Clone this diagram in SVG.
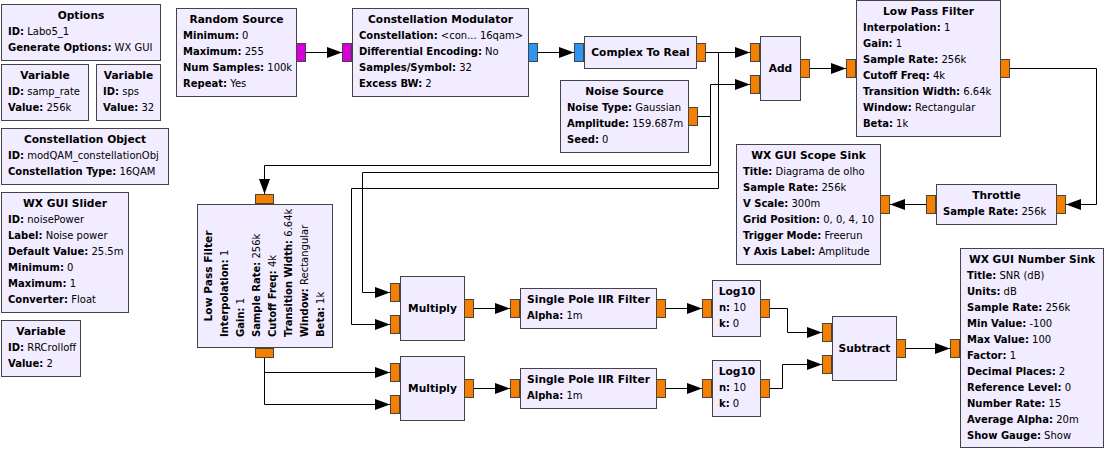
<svg xmlns="http://www.w3.org/2000/svg" width="1105" height="449" viewBox="0 0 1105 449">
<style>
text{font-family:"DejaVu Sans","Liberation Sans",sans-serif;font-size:10px;fill:#000}
.t{font-weight:bold;text-anchor:middle;font-size:10.667px}
.k{font-weight:bold}
.b{fill:#F1ECFF;stroke:#444;stroke-width:1}
.f{fill:#F67F00;stroke:#444;stroke-width:1}
.c{fill:#2E96F2;stroke:#444;stroke-width:1}
.m{fill:#D800D8;stroke:#444;stroke-width:1}
#conn path{fill:none;stroke:#000;stroke-width:1;marker-end:url(#arr)}
</style>
<defs>
<marker id="arr" markerUnits="userSpaceOnUse" markerWidth="15" markerHeight="11" refX="15" refY="5.5" orient="auto"><path d="M0,0 L15,5.5 L0,11 Z" fill="#000"/></marker>
</defs>
<rect width="1105" height="449" fill="#fff"/>
<g id="conn">
<path d="M306,52.5 H342"/>
<path d="M538,52.5 H574"/>
<path d="M706,52.5 H750"/>
<path d="M706,52.5 H718.5 V172.5 H362.5 V292.5 H390"/>
<path d="M706,52.5 H718.5 V188.5 H351.5 V324.5 H390"/>
<path d="M698,116.5 H710.5 V84.5 H750"/>
<path d="M698,116.5 H710.5 V165.5 H264.5 V194"/>
<path d="M810,68.5 H846"/>
<path d="M1010,68.5 H1096.5 V204.5 H1066"/>
<path d="M926,204.5 H890"/>
<path d="M264.5,358 V372.5 H390"/>
<path d="M264.5,358 V404.5 H390"/>
<path d="M474,308.5 H510"/>
<path d="M666,308.5 H702"/>
<path d="M474,388.5 H510"/>
<path d="M666,388.5 H702"/>
<path d="M770,308.5 H787.5 V332.5 H822"/>
<path d="M770,388.5 H782.5 V364.5 H822"/>
<path d="M906,348.5 H950"/>
</g>
<g id="options">
<rect class="b" x="1.5" y="4.5" width="159" height="56"/>
<text class="t" x="81" y="19">Options</text>
<text x="8" y="35"><tspan class="k">ID:</tspan> Labo5_1</text>
<text x="8" y="51"><tspan class="k">Generate Options:</tspan> WX GUI</text>
</g>
<g id="var_samp_rate">
<rect class="b" x="1.5" y="64.5" width="87" height="56"/>
<text class="t" x="45" y="79">Variable</text>
<text x="8" y="95"><tspan class="k">ID:</tspan> samp_rate</text>
<text x="8" y="111"><tspan class="k">Value:</tspan> 256k</text>
</g>
<g id="var_sps">
<rect class="b" x="96.5" y="64.5" width="64" height="56"/>
<text class="t" x="128.5" y="79">Variable</text>
<text x="103" y="95"><tspan class="k">ID:</tspan> sps</text>
<text x="103" y="111"><tspan class="k">Value:</tspan> 32</text>
</g>
<g id="constellation_object">
<rect class="b" x="1.5" y="128.5" width="167" height="56"/>
<text class="t" x="85" y="143">Constellation Object</text>
<text x="8" y="159"><tspan class="k">ID:</tspan> modQAM_constellationObj</text>
<text x="8" y="175"><tspan class="k">Constellation Type:</tspan> 16QAM</text>
</g>
<g id="slider">
<rect class="b" x="1.5" y="192.5" width="127" height="120"/>
<text class="t" x="65" y="207">WX GUI Slider</text>
<text x="8" y="223"><tspan class="k">ID:</tspan> noisePower</text>
<text x="8" y="239"><tspan class="k">Label:</tspan> Noise power</text>
<text x="8" y="255"><tspan class="k">Default Value:</tspan> 25.5m</text>
<text x="8" y="271"><tspan class="k">Minimum:</tspan> 0</text>
<text x="8" y="287"><tspan class="k">Maximum:</tspan> 1</text>
<text x="8" y="303"><tspan class="k">Converter:</tspan> Float</text>
</g>
<g id="var_rrcrolloff">
<rect class="b" x="1.5" y="320.5" width="79" height="56"/>
<text class="t" x="41" y="335">Variable</text>
<text x="8" y="351"><tspan class="k">ID:</tspan> RRCrolloff</text>
<text x="8" y="367"><tspan class="k">Value:</tspan> 2</text>
</g>
<g id="random_source">
<rect class="b" x="176.5" y="8.5" width="120" height="88"/>
<rect class="m" x="296.5" y="43.5" width="9" height="18"/>
<text class="t" x="236.5" y="23">Random Source</text>
<text x="183" y="39"><tspan class="k">Minimum:</tspan> 0</text>
<text x="183" y="55"><tspan class="k">Maximum:</tspan> 255</text>
<text x="183" y="71"><tspan class="k">Num Samples:</tspan> 100k</text>
<text x="183" y="87"><tspan class="k">Repeat:</tspan> Yes</text>
</g>
<g id="constellation_modulator">
<rect class="b" x="352.5" y="8.5" width="176" height="88"/>
<rect class="m" x="342.5" y="43.5" width="9" height="18"/>
<rect class="c" x="528.5" y="43.5" width="9" height="18"/>
<text class="t" x="440.5" y="23">Constellation Modulator</text>
<text x="359" y="39"><tspan class="k">Constellation:</tspan> &lt;con... 16qam&gt;</text>
<text x="359" y="55"><tspan class="k">Differential Encoding:</tspan> No</text>
<text x="359" y="71"><tspan class="k">Samples/Symbol:</tspan> 32</text>
<text x="359" y="87"><tspan class="k">Excess BW:</tspan> 2</text>
</g>
<g id="complex_to_real">
<rect class="b" x="584.5" y="36.5" width="112" height="32"/>
<rect class="c" x="574.5" y="43.5" width="9" height="18"/>
<rect class="f" x="696.5" y="43.5" width="9" height="18"/>
<text class="t" x="640.5" y="56">Complex To Real</text>
</g>
<g id="noise_source">
<rect class="b" x="560.5" y="80.5" width="128" height="72"/>
<rect class="f" x="688.5" y="107.5" width="9" height="18"/>
<text class="t" x="624.5" y="95">Noise Source</text>
<text x="567" y="111"><tspan class="k">Noise Type:</tspan> Gaussian</text>
<text x="567" y="127"><tspan class="k">Amplitude:</tspan> 159.687m</text>
<text x="567" y="143"><tspan class="k">Seed:</tspan> 0</text>
</g>
<g id="add">
<rect class="b" x="760.5" y="36.5" width="40" height="64"/>
<rect class="f" x="750.5" y="43.5" width="9" height="18"/>
<rect class="f" x="750.5" y="75.5" width="9" height="18"/>
<rect class="f" x="800.5" y="59.5" width="9" height="18"/>
<text class="t" x="780.5" y="72">Add</text>
</g>
<g id="low_pass_filter_0">
<rect class="b" x="856.5" y="0.5" width="144" height="136"/>
<rect class="f" x="846.5" y="59.5" width="9" height="18"/>
<rect class="f" x="1000.5" y="59.5" width="9" height="18"/>
<text class="t" x="928.5" y="15">Low Pass Filter</text>
<text x="863" y="31"><tspan class="k">Interpolation:</tspan> 1</text>
<text x="863" y="47"><tspan class="k">Gain:</tspan> 1</text>
<text x="863" y="63"><tspan class="k">Sample Rate:</tspan> 256k</text>
<text x="863" y="79"><tspan class="k">Cutoff Freq:</tspan> 4k</text>
<text x="863" y="95"><tspan class="k">Transition Width:</tspan> 6.64k</text>
<text x="863" y="111"><tspan class="k">Window:</tspan> Rectangular</text>
<text x="863" y="127"><tspan class="k">Beta:</tspan> 1k</text>
</g>
<g id="throttle">
<rect class="b" x="936.5" y="184.5" width="120" height="40"/>
<rect class="f" x="1056.5" y="195.5" width="9" height="18"/>
<rect class="f" x="926.5" y="195.5" width="9" height="18"/>
<text class="t" x="996.5" y="199">Throttle</text>
<text x="943" y="215"><tspan class="k">Sample Rate:</tspan> 256k</text>
</g>
<g id="scope_sink">
<rect class="b" x="736.5" y="144.5" width="144" height="120"/>
<rect class="f" x="880.5" y="195.5" width="9" height="18"/>
<text class="t" x="808.5" y="159">WX GUI Scope Sink</text>
<text x="743" y="175"><tspan class="k">Title:</tspan> Diagrama de olho</text>
<text x="743" y="191"><tspan class="k">Sample Rate:</tspan> 256k</text>
<text x="743" y="207"><tspan class="k">V Scale:</tspan> 300m</text>
<text x="743" y="223"><tspan class="k">Grid Position:</tspan> 0, 0, 4, 10</text>
<text x="743" y="239"><tspan class="k">Trigger Mode:</tspan> Freerun</text>
<text x="743" y="255"><tspan class="k">Y Axis Label:</tspan> Amplitude</text>
</g>
<g id="low_pass_filter_1">
<rect class="b" x="197.5" y="204.5" width="135" height="143"/>
<rect class="f" x="255.5" y="194.5" width="18" height="9"/>
<rect class="f" x="255.5" y="348.5" width="18" height="9"/>
<text class="t" transform="translate(211.5,276) rotate(-90)">Low Pass Filter</text>
<text transform="translate(227.5,337) rotate(-90)"><tspan class="k">Interpolation:</tspan> 1</text>
<text transform="translate(243.5,337) rotate(-90)"><tspan class="k">Gain:</tspan> 1</text>
<text transform="translate(259.5,337) rotate(-90)"><tspan class="k">Sample Rate:</tspan> 256k</text>
<text transform="translate(275.5,337) rotate(-90)"><tspan class="k">Cutoff Freq:</tspan> 4k</text>
<text transform="translate(291.5,337) rotate(-90)"><tspan class="k">Transition Width:</tspan> 6.64k</text>
<text transform="translate(307.5,337) rotate(-90)"><tspan class="k">Window:</tspan> Rectangular</text>
<text transform="translate(323.5,337) rotate(-90)"><tspan class="k">Beta:</tspan> 1k</text>
</g>
<g id="multiply_0">
<rect class="b" x="400.5" y="276.5" width="64" height="64"/>
<rect class="f" x="390.5" y="283.5" width="9" height="18"/>
<rect class="f" x="390.5" y="315.5" width="9" height="18"/>
<rect class="f" x="464.5" y="299.5" width="9" height="18"/>
<text class="t" x="432.5" y="312">Multiply</text>
</g>
<g id="multiply_1">
<rect class="b" x="400.5" y="356.5" width="64" height="64"/>
<rect class="f" x="390.5" y="363.5" width="9" height="18"/>
<rect class="f" x="390.5" y="395.5" width="9" height="18"/>
<rect class="f" x="464.5" y="379.5" width="9" height="18"/>
<text class="t" x="432.5" y="392">Multiply</text>
</g>
<g id="iir_0">
<rect class="b" x="520.5" y="288.5" width="136" height="40"/>
<rect class="f" x="510.5" y="299.5" width="9" height="18"/>
<rect class="f" x="656.5" y="299.5" width="9" height="18"/>
<text class="t" x="588.5" y="303">Single Pole IIR Filter</text>
<text x="527" y="319"><tspan class="k">Alpha:</tspan> 1m</text>
</g>
<g id="iir_1">
<rect class="b" x="520.5" y="368.5" width="136" height="40"/>
<rect class="f" x="510.5" y="379.5" width="9" height="18"/>
<rect class="f" x="656.5" y="379.5" width="9" height="18"/>
<text class="t" x="588.5" y="383">Single Pole IIR Filter</text>
<text x="527" y="399"><tspan class="k">Alpha:</tspan> 1m</text>
</g>
<g id="log10_0">
<rect class="b" x="712.5" y="280.5" width="48" height="56"/>
<rect class="f" x="702.5" y="299.5" width="9" height="18"/>
<rect class="f" x="760.5" y="299.5" width="9" height="18"/>
<text class="t" x="737" y="295">Log10</text>
<text x="719" y="311"><tspan class="k">n:</tspan> 10</text>
<text x="719" y="327"><tspan class="k">k:</tspan> 0</text>
</g>
<g id="log10_1">
<rect class="b" x="712.5" y="360.5" width="48" height="56"/>
<rect class="f" x="702.5" y="379.5" width="9" height="18"/>
<rect class="f" x="760.5" y="379.5" width="9" height="18"/>
<text class="t" x="737" y="375">Log10</text>
<text x="719" y="391"><tspan class="k">n:</tspan> 10</text>
<text x="719" y="407"><tspan class="k">k:</tspan> 0</text>
</g>
<g id="subtract">
<rect class="b" x="832.5" y="316.5" width="64" height="64"/>
<rect class="f" x="822.5" y="323.5" width="9" height="18"/>
<rect class="f" x="822.5" y="355.5" width="9" height="18"/>
<rect class="f" x="896.5" y="339.5" width="9" height="18"/>
<text class="t" x="864.5" y="352">Subtract</text>
</g>
<g id="number_sink">
<rect class="b" x="960.5" y="248.5" width="143" height="199"/>
<rect class="f" x="950.5" y="339.5" width="9" height="18"/>
<text class="t" x="1032" y="263">WX GUI Number Sink</text>
<text x="967" y="279"><tspan class="k">Title:</tspan> SNR (dB)</text>
<text x="967" y="295"><tspan class="k">Units:</tspan> dB</text>
<text x="967" y="311"><tspan class="k">Sample Rate:</tspan> 256k</text>
<text x="967" y="327"><tspan class="k">Min Value:</tspan> -100</text>
<text x="967" y="343"><tspan class="k">Max Value:</tspan> 100</text>
<text x="967" y="359"><tspan class="k">Factor:</tspan> 1</text>
<text x="967" y="375"><tspan class="k">Decimal Places:</tspan> 2</text>
<text x="967" y="391"><tspan class="k">Reference Level:</tspan> 0</text>
<text x="967" y="407"><tspan class="k">Number Rate:</tspan> 15</text>
<text x="967" y="423"><tspan class="k">Average Alpha:</tspan> 20m</text>
<text x="967" y="439"><tspan class="k">Show Gauge:</tspan> Show</text>
</g>
</svg>
